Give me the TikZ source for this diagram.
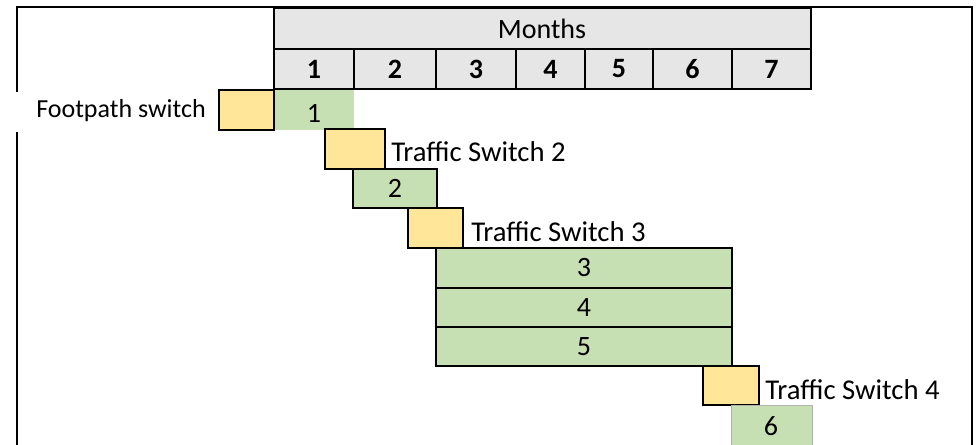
\documentclass[tikz,border=0pt]{standalone}
\usepackage{fontspec}
\setmainfont{Carlito}
\usetikzlibrary{positioning}
\definecolor{SwitchYellow}{HTML}{FFE699}
\definecolor{TaskGreen}{HTML}{C6E0B4}
\definecolor{HeadGray}{HTML}{E7E6E6}

\tikzset{
  headcell/.style={draw, line width=1.1pt, fill=HeadGray},
  switchbox/.style={draw, line width=2.2pt, fill=SwitchYellow},
  taskbar/.style={draw, line width=1.6pt, fill=TaskGreen},
  steplabel/.style={anchor=base west, inner sep=0pt, font=\fontsize{21.5}{24}\selectfont}
}

\begin{document}
\begin{tikzpicture}[x=0.75pt, y=-0.75pt, font=\fontsize{21}{24}\selectfont]
  \useasboundingbox (0,0) rectangle (977,445);

  % Outer frame (open at the bottom)
  \draw[line width=1.3pt] (17,445) -- (17,7) -- (972,7) -- (972,445);

  % Months header
  \draw[headcell] (274,8) rectangle (811,49);
  \node (months) at (542,29) {Months};
  \foreach \xa/\xb/\m in {274/354/1, 354/436/2, 436/516/3, 516/585/4, 585/653/5, 653/732/6, 732/811/7}
    \draw[headcell] (\xa,49) rectangle (\xb,89) node[midway] (month\m) {\textbf{\m}};
  \draw[line width=2pt] (274,8) -- (274,89) -- (811,89) -- (811,8);

  % Footpath switch
  \fill[white] (14,92) rectangle (214,132);
  \node[font=\fontsize{19.5}{22}\selectfont] (footpath) at (121,111) {Footpath switch};
  \fill[TaskGreen] (274,90) rectangle (354,130);
  \node (task1) at (314,113) {1};
  \draw[switchbox] (219,90) rectangle (274,130);

  % Traffic switch 2
  \draw[switchbox] (325,129) rectangle (385,169);
  \node[steplabel] (switch2) at (391,162) {Traffic Switch 2};
  \draw[taskbar] (353,169) rectangle (437,208) node[midway] (task2) {2};

  % Traffic switch 3
  \draw[switchbox] (408,208) rectangle (463,248);
  \node[steplabel] (switch3) at (471,242) {Traffic Switch 3};
  \draw[taskbar] (436,248) rectangle (732,288) node[midway] (task3) {3};
  \draw[taskbar] (436,288) rectangle (732,327) node[midway] (task4) {4};
  \draw[taskbar] (436,327) rectangle (732,366) node[midway] (task5) {5};

  % Traffic switch 4
  \draw[switchbox] (703,366) rectangle (759,405);
  \node[steplabel] (switch4) at (765,399) {Traffic Switch 4};
  \draw[fill=TaskGreen, draw=gray!60, line width=0.6pt] (731,405) rectangle (812,448);
  \node (task6) at (771,426) {6};
\end{tikzpicture}
\end{document}
